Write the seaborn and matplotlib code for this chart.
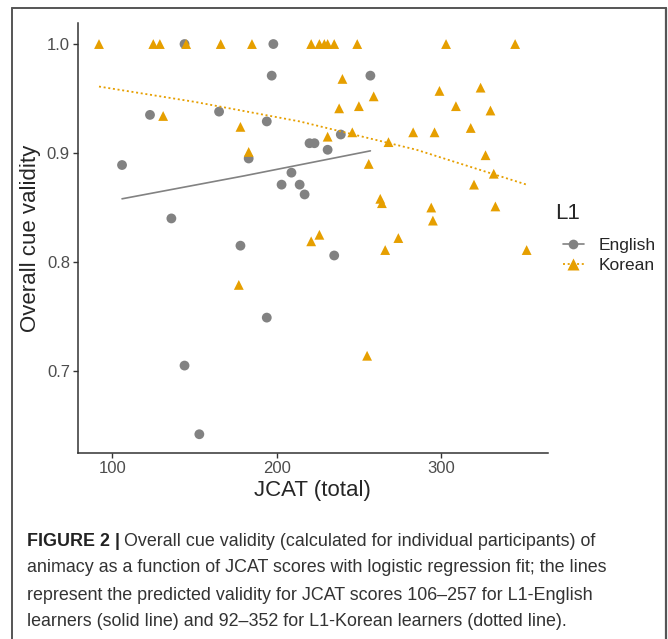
import numpy as np
import pandas as pd
import matplotlib
matplotlib.use("Agg")
import matplotlib.pyplot as plt
from matplotlib.lines import Line2D
import seaborn as sns

# English learners (grey circles)
eng_jcat = [106, 123, 136, 144, 144, 153, 165, 178, 183, 194, 194, 197,
            198, 203, 209, 214, 217, 220, 223, 231, 235, 239, 257]
eng_cue = [0.889, 0.935, 0.840, 1.000, 0.705, 0.642, 0.938, 0.815, 0.895,
           0.929, 0.749, 0.971, 1.000, 0.871, 0.882, 0.871, 0.862, 0.909,
           0.909, 0.903, 0.806, 0.917, 0.971]

# Korean learners (orange triangles)
kor_jcat = [92, 125, 129, 145, 166, 185, 221, 226, 229, 231, 235, 249, 303, 345,
            131, 178, 183, 240, 259, 238, 250, 299, 324, 309, 330, 318, 283,
            296, 246, 231, 268, 327, 256, 332, 320, 263, 264, 294, 295, 333,
            221, 226, 274, 266, 352, 177, 255]
kor_cue = [1.0, 1.0, 1.0, 1.0, 1.0, 1.0, 1.0, 1.0, 1.0, 1.0, 1.0, 1.0, 1.0, 1.0,
           0.934, 0.924, 0.901, 0.968, 0.952, 0.941, 0.943, 0.957, 0.960, 0.943,
           0.939, 0.923, 0.919, 0.919, 0.919, 0.915, 0.910, 0.898, 0.890, 0.881,
           0.871, 0.858, 0.854, 0.850, 0.838, 0.851, 0.819, 0.825, 0.822, 0.811,
           0.811, 0.779, 0.714]

# predicted validity from the logistic fits
eng_fit_x = [106, 180, 257]
eng_fit_y = [0.858, 0.879, 0.902]
kor_fit_x = [92, 150, 214, 285, 352]
kor_fit_y = [0.961, 0.947, 0.929, 0.903, 0.871]

groups = ["English", "Korean"]
colors = {"English": "#828282", "Korean": "#E69F00"}

df = pd.DataFrame({
    "JCAT": eng_jcat + kor_jcat,
    "cue": eng_cue + kor_cue,
    "L1": ["English"] * len(eng_jcat) + ["Korean"] * len(kor_jcat),
})
fits = pd.DataFrame({
    "JCAT": eng_fit_x + kor_fit_x,
    "cue": eng_fit_y + kor_fit_y,
    "L1": ["English"] * len(eng_fit_x) + ["Korean"] * len(kor_fit_x),
})

sns.set_style("ticks")
plt.rcParams["font.family"] = ["Liberation Sans", "DejaVu Sans"]

fig = plt.figure(figsize=(6.68, 6.39), dpi=100)
ax = fig.add_axes([0.1162, 0.2911, 0.7042, 0.6729])

sns.scatterplot(data=df, x="JCAT", y="cue", hue="L1", style="L1",
                markers={"English": "o", "Korean": "^"}, palette=colors,
                s=50, edgecolor="none", linewidth=0, legend=False, ax=ax)
sns.lineplot(data=fits[fits.L1 == "English"], x="JCAT", y="cue",
             color=colors["English"], lw=1.2, ax=ax, legend=False)
sns.lineplot(data=fits[fits.L1 == "Korean"], x="JCAT", y="cue",
             color=colors["Korean"], lw=1.3, ls=(0, (1.1, 1.5)), ax=ax, legend=False)

ax.set_xlim(79, 365)
ax.set_ylim(0.6248, 1.0193)
ax.set_xticks([100, 200, 300])
ax.set_yticks([0.7, 0.8, 0.9, 1.0])
ax.set_yticklabels(["0.7", "0.8", "0.9", "1.0"])
ax.tick_params(labelsize=12, labelcolor="#4D4D4D", color="#333333",
               length=3.5, width=1, pad=2)
for side in ["left", "bottom"]:
    ax.spines[side].set_color("#333333")
    ax.spines[side].set_linewidth(1.1)
sns.despine(ax=ax)
ax.set_xlabel("JCAT (total)", fontsize=16, labelpad=3)
ax.set_ylabel("Overall cue validity", fontsize=16, labelpad=4)

# legend: title as its own text, keys below it
fig.text(555 / 668, 1 - 214 / 639, "L1", fontsize=16, va="center", ha="left")
handles = [
    Line2D([], [], color=colors["English"], marker="o", ms=7, mec="none", lw=1.2),
    Line2D([], [], color=colors["Korean"], marker="^", ms=8, mec="none", lw=1.3,
           ls=(0, (1.1, 1.5))),
]
fig.legend(handles, groups, loc="upper left",
           bbox_to_anchor=(563 / 668, 1 - 238 / 639), frameon=False, fontsize=12.5,
           handlelength=1.2, handletextpad=0.85, labelspacing=0.25,
           borderaxespad=0, borderpad=0)

# frame around the figure panel
fc = "#555555"
fig.add_artist(Line2D([12 / 668, 12 / 668], [0, 1 - 8 / 639], color=fc, lw=1.4,
                      transform=fig.transFigure))
fig.add_artist(Line2D([12 / 668, 665.5 / 668], [1 - 8 / 639, 1 - 8 / 639], color=fc,
                      lw=1.4, transform=fig.transFigure))
fig.add_artist(Line2D([665.5 / 668, 665.5 / 668], [0, 1 - 8 / 639], color=fc, lw=1.6,
                      transform=fig.transFigure))

# caption
cap_font = ["Liberation Sans", "DejaVu Sans"]
cap_size = 12.9
cap_lines = [
    "Overall cue validity (calculated for individual participants) of",
    "animacy as a function of JCAT scores with logistic regression fit; the lines",
    "represent the predicted validity for JCAT scores 106\u2013257 for L1-English",
    "learners (solid line) and 92\u2013352 for L1-Korean learners (dotted line).",
]
cap_y = [541, 568, 595, 622]
x0 = 27 / 668
bold = fig.text(x0, 1 - cap_y[0] / 639, "FIGURE 2 |", family=cap_font,
                fontweight="bold", fontsize=cap_size, color="#222222", va="center")
r = fig.canvas.get_renderer()
bb = bold.get_window_extent(renderer=r)
fig.text(bb.x1 / 668 + 4 / 668, 1 - cap_y[0] / 639, cap_lines[0], family=cap_font,
         fontsize=cap_size, color="#333333", va="center")
for line, yy in zip(cap_lines[1:], cap_y[1:]):
    fig.text(x0, 1 - yy / 639, line, family=cap_font, fontsize=cap_size,
             color="#333333", va="center")

fig.savefig("out.png", dpi=100)
